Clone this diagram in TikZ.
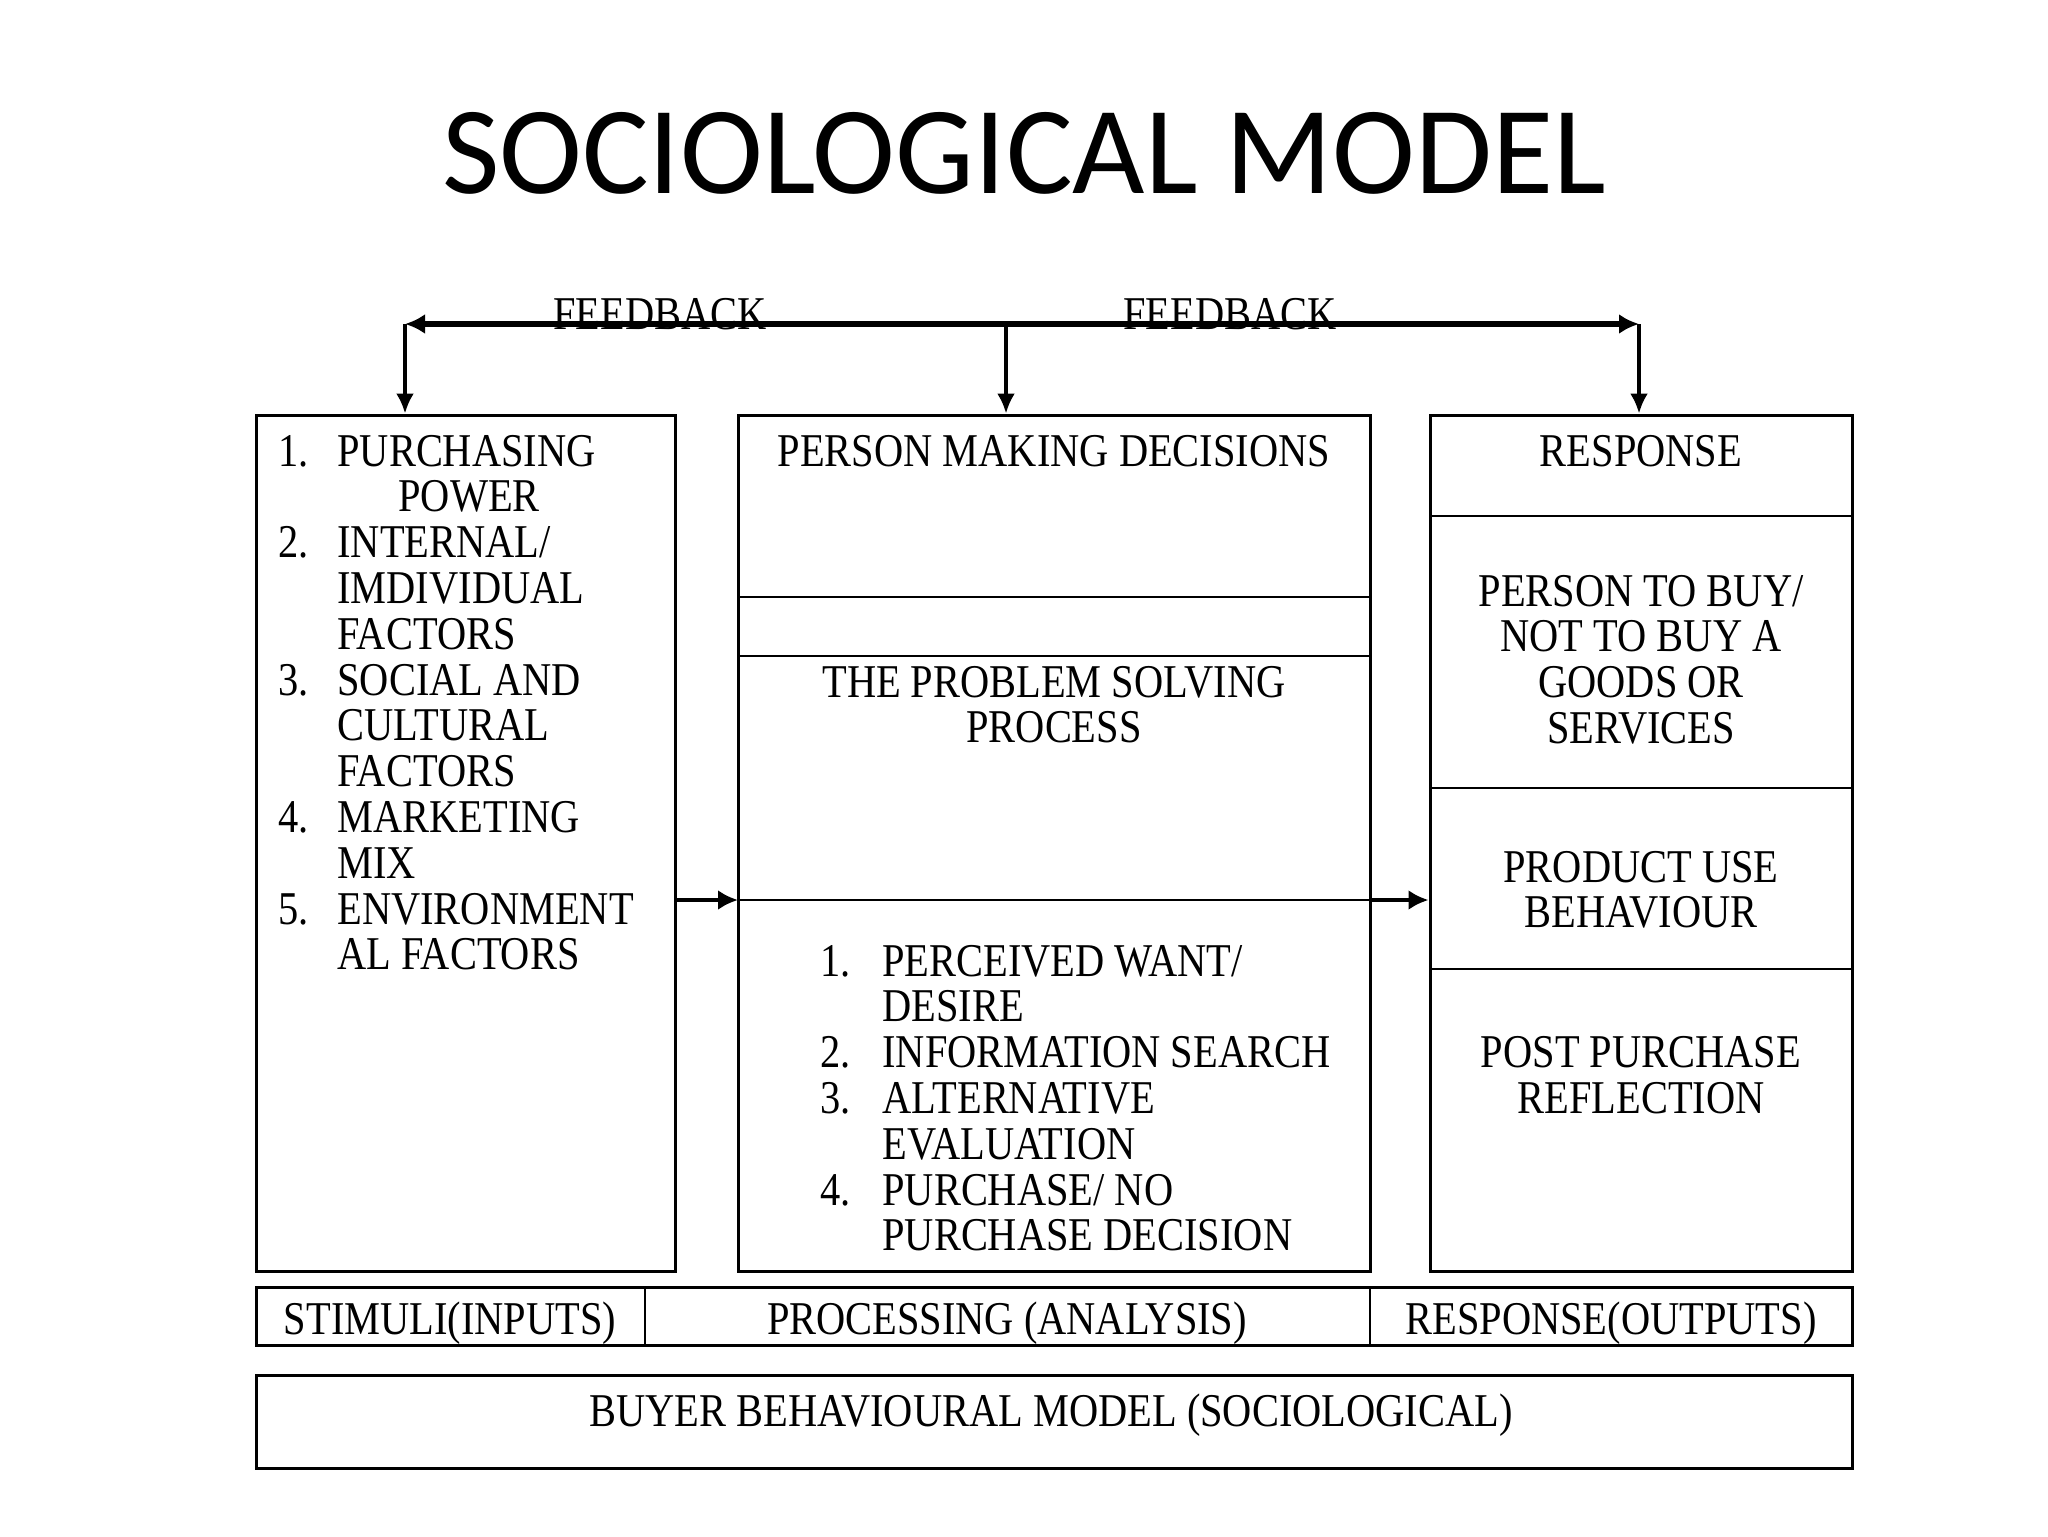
\documentclass[tikz,border=0pt]{standalone}
\usepackage{fontspec}
\setmainfont{Liberation Serif}
\newfontfamily\titlefont{Carlito}
\newfontfamily\diagfont[FakeStretch=0.86]{Liberation Serif}
\usetikzlibrary{arrows.meta,fit}
\begin{document}
\begin{tikzpicture}[x=0.5pt,y=-0.5pt,
  box/.style={draw, line width=1.5pt, inner sep=0pt},
  divider/.style={line width=1.2pt},
  txt/.style={inner sep=0pt, font=\diagfont\fontsize{23.5pt}{23pt}\selectfont},
  arr/.style={-{Latex[length=10pt,width=10pt]}, line width=2pt},
  fbline/.style={{Latex[length=10pt,width=10pt]}-{Latex[length=10pt,width=10pt]}, line width=2.6pt},
  dropline/.style={-{Latex[length=10pt,width=9pt]}, line width=1.8pt}]
\useasboundingbox (0,0) rectangle (2048,1536);
\fill[white] (0,0) rectangle (2048,1536);

% title
\node[inner sep=0pt, anchor=base, font=\titlefont\fontsize{62.5pt}{70pt}\selectfont] (title) at (1024,193) {SOCIOLOGICAL MODEL};

% main boxes
\node[box, fit={(256,415) (675,1271)}] (left) {};
\node[box, fit={(738,415) (1370,1271)}] (mid) {};
\node[box, fit={(1430,415) (1852,1271)}] (right) {};
\node[box, fit={(256,1287) (1852,1345)}] (row) {};
\node[box, fit={(256,1375) (1852,1468)}] (bottom) {};

% dividers
\coordinate (md1) at (738,597);
\coordinate (md2) at (738,656);
\coordinate (md3) at (738,900);
\draw[divider] (md1) -- (md1 -| mid.east);
\draw[divider] (md2) -- (md2 -| mid.east);
\draw[divider] (md3) -- (md3 -| mid.east);
\coordinate (rd1) at (1430,516);
\coordinate (rd2) at (1430,788);
\coordinate (rd3) at (1430,969);
\draw[divider] (rd1) -- (rd1 -| right.east);
\draw[divider] (rd2) -- (rd2 -| right.east);
\draw[divider] (rd3) -- (rd3 -| right.east);
\coordinate (bd1) at (645,1287);
\coordinate (bd2) at (1370,1287);
\draw[divider] (bd1) -- (bd1 |- row.south);
\draw[divider] (bd2) -- (bd2 |- row.south);

% feedback
\node[txt, anchor=base] (fb1) at (660,329) {FEEDBACK};
\node[txt, anchor=base] (fb2) at (1230,329) {FEEDBACK};
\coordinate (fbL) at (405,324);
\coordinate (fbM) at (1006,324);
\coordinate (fbR) at (1639,324);
\draw[fbline] (fbL) -- (fbR);
\draw[dropline] (fbL) -- (fbL |- left.north);
\draw[dropline] (fbM) -- (fbM |- mid.north);
\draw[dropline] (fbR) -- (fbR |- right.north);

% flow arrows
\draw[arr] (md3 -| left.east) -- (md3);
\draw[arr] (md3 -| mid.east) -- (md3 -| right.west);

% left list
\foreach \t [count=\i] in {PURCHASING,{},INTERNAL/,IMDIVIDUAL,FACTORS,SOCIAL AND,CULTURAL,FACTORS,MARKETING,MIX,ENVIRONMENT,AL FACTORS}
  \node[txt, anchor=base west] (la\i) at (337,{466+45.8*(\i-1)}) {\t};
\node[txt, anchor=base west] (lpow) at (398,{466+45.8}) {POWER};
\foreach \n/\k in {1/1,2/3,3/6,4/9,5/11}
  \node[txt, anchor=base west] (ln\n) at (278,{466+45.8*(\k-1)}) {\n.};

% middle texts
\node[txt, anchor=base] (m1) at (1054,466) {PERSON MAKING DECISIONS};
\node[txt, anchor=base] (m2) at (1054,697) {THE PROBLEM SOLVING};
\node[txt, anchor=base] (m3) at (1054,742) {PROCESS};
\foreach \t [count=\i] in {PERCEIVED WANT/,DESIRE,INFORMATION SEARCH,ALTERNATIVE,EVALUATION,PURCHASE/ NO,PURCHASE DECISION}
  \node[txt, anchor=base west] (ma\i) at (882,{976+45.8*(\i-1)}) {\t};
\foreach \n/\k in {1/1,2/3,3/4,4/6}
  \node[txt, anchor=base west] (mn\n) at (820,{976+45.8*(\k-1)}) {\n.};

% right texts
\node[txt, anchor=base] (r1) at (1641,466) {RESPONSE};
\foreach \t [count=\i] in {PERSON TO BUY/,NOT TO BUY A,GOODS OR,SERVICES}
  \node[txt, anchor=base] (rb\i) at (1641,{606+45.8*(\i-1)}) {\t};
\node[txt, anchor=base] (r2) at (1641,882) {PRODUCT USE};
\node[txt, anchor=base] (r3) at (1641,927) {BEHAVIOUR};
\node[txt, anchor=base] (r4) at (1641,1067) {POST PURCHASE};
\node[txt, anchor=base] (r5) at (1641,1113) {REFLECTION};

% bottom rows
\node[txt, anchor=base] (s1) at (450,1334) {STIMULI(INPUTS)};
\node[txt, anchor=base] (s2) at (1007,1334) {PROCESSING (ANALYSIS)};
\node[txt, anchor=base] (s3) at (1611,1334) {RESPONSE(OUTPUTS)};
\node[txt, anchor=base] (bt) at (1051,1426) {BUYER BEHAVIOURAL MODEL (SOCIOLOGICAL)};
\end{tikzpicture}
\end{document}
